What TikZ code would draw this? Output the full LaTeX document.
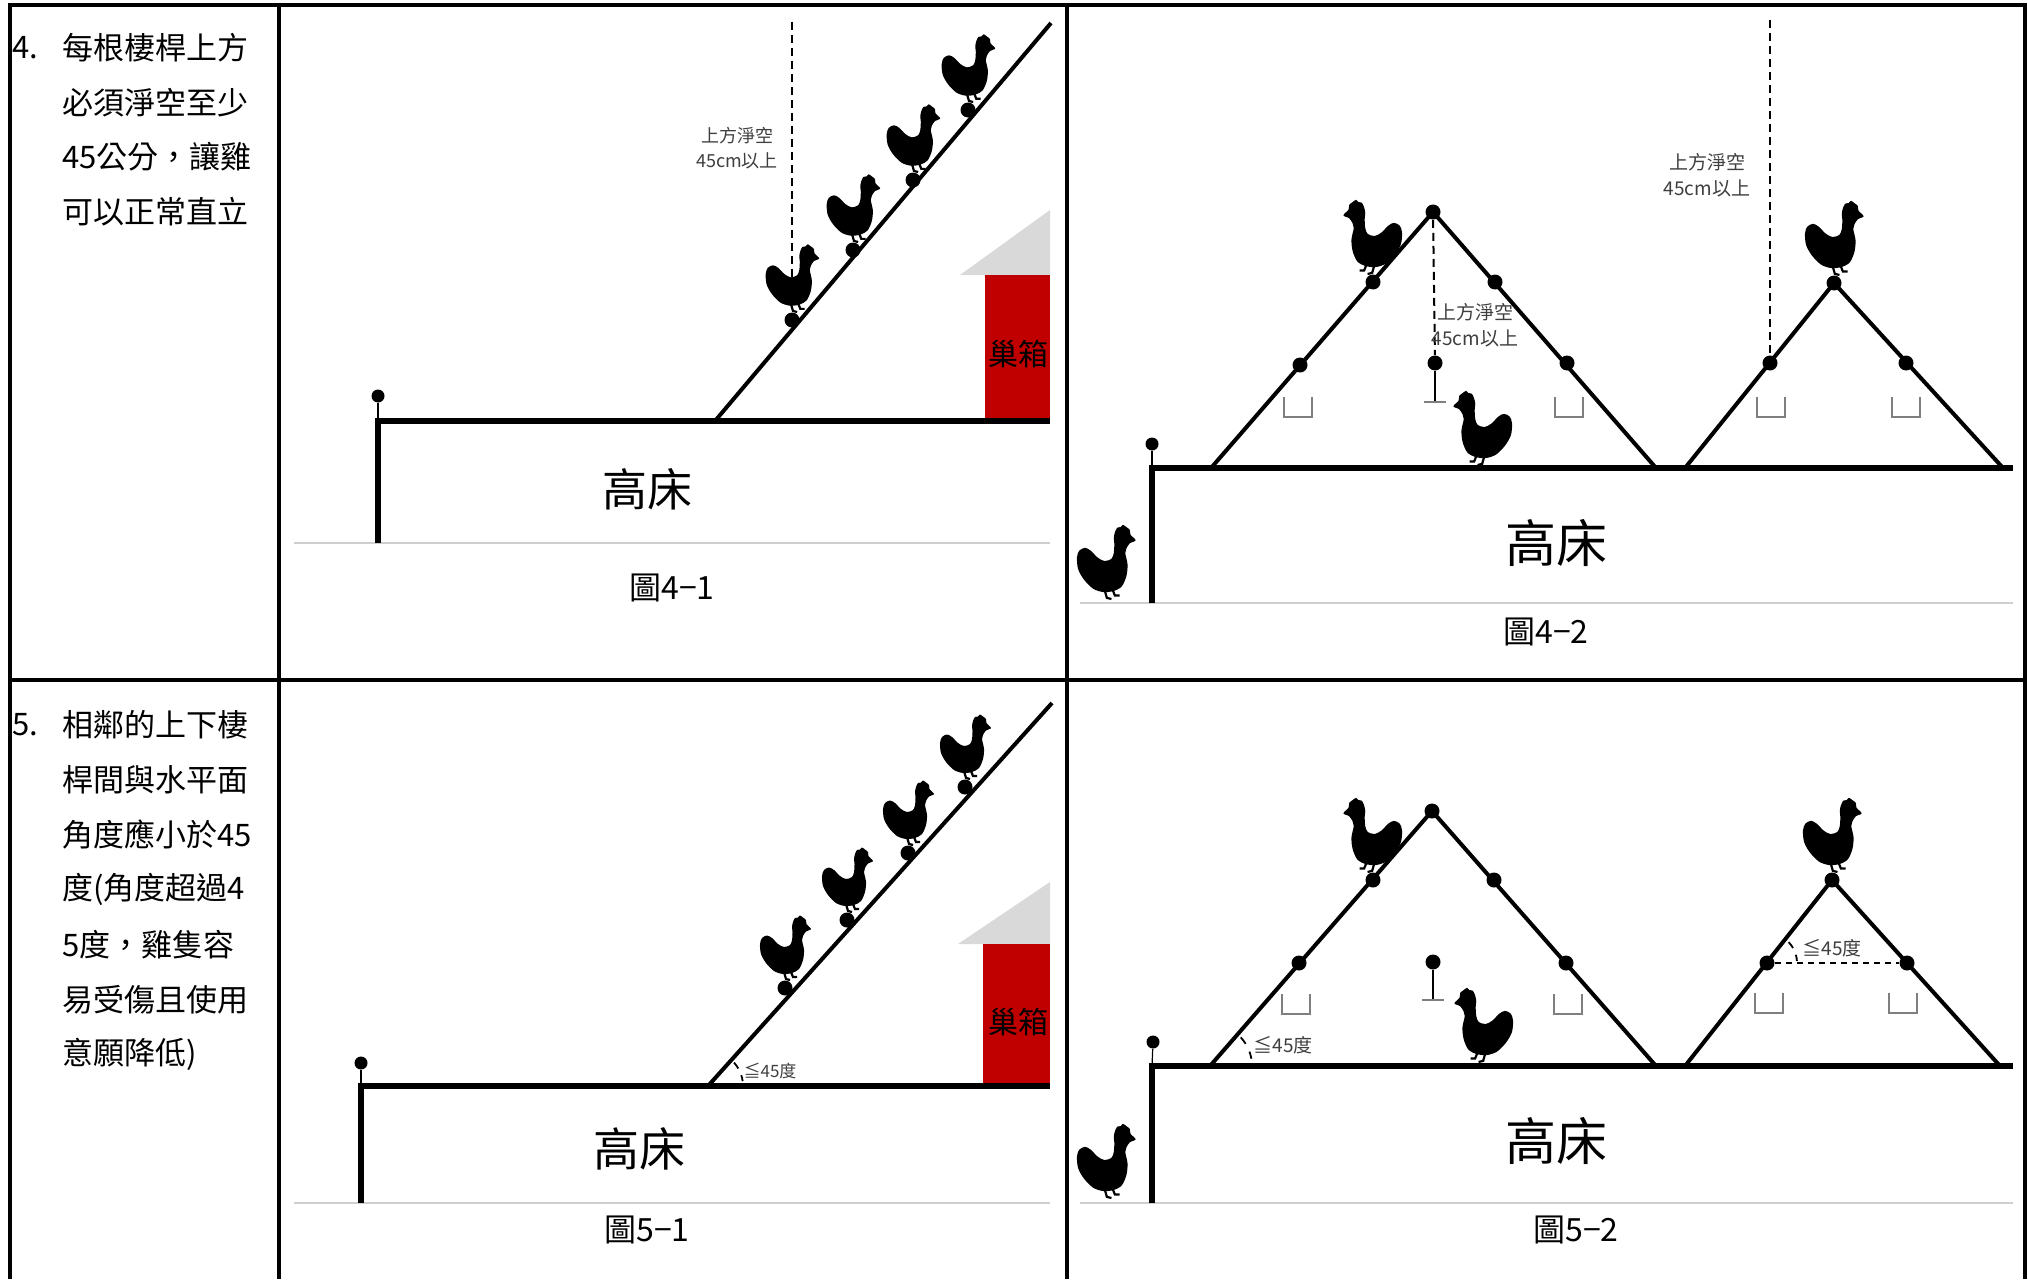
\documentclass[tikz,border=0pt]{standalone}
\usepackage{fontspec}
\setmainfont{Noto Sans CJK TC}
\usetikzlibrary{calc}

\definecolor{nestred}{HTML}{C00000}
\definecolor{roofgray}{HTML}{D9D9D9}
\definecolor{floorgray}{HTML}{CFCFCF}
\definecolor{troughgray}{HTML}{7F7F7F}
\definecolor{notegray}{HTML}{3F3F3F}

\tikzset{
  frame line/.style={line width=2pt},
  bed line/.style={line width=2.6pt, line join=miter},
  perch bar/.style={line width=2pt},
  floor line/.style={line width=1pt, draw=floorgray},
  clearance/.style={line width=1pt, dash pattern=on 4pt off 2.5pt},
  level line/.style={line width=1pt, dash pattern=on 3pt off 2.5pt},
  perch dot/.style={circle, fill=black, inner sep=0pt, minimum size=7.5pt},
  post dot/.style={circle, fill=black, inner sep=0pt, minimum size=6.5pt},
  stem/.style={line width=0.6pt},
  angle tick/.style={line width=0.9pt},
  note/.style={align=center, inner sep=0pt, text=notegray, font=\fontsize{9}{12.5}\selectfont},
  angle note/.style={inner sep=0pt, text=notegray, font=\fontsize{8.5}{10}\selectfont},
  bed name/.style={inner sep=0pt, font=\fontsize{23}{26}\selectfont},
  fig name/.style={inner sep=0pt, font=\fontsize{16}{18}\selectfont},
  nest name/.style={inner sep=0pt, font=\fontsize{15}{18}\selectfont},
  item/.style={anchor=west, inner sep=0pt, font=\fontsize{15.5}{18}\selectfont},
  trough/.pic={\draw[draw=troughgray, line width=0.8pt] (-14,0) -- (-14,20) -- (14,20) -- (14,0);},
  % hen silhouette facing right, origin at the feet
  hen/.pic={
    \fill plot[smooth cycle, tension=0.5] coordinates {
      (-27,-36) (-25,-42) (-20,-44.5) (-15,-42) (-9,-36) (-3,-33) (3,-35)
      (5,-40) (5.5,-48) (5,-53) (6,-58) (8,-62) (11,-62.5) (13,-64.5)
      (16,-62.5) (19,-60) (19.5,-56) (24,-51) (19,-48.5) (16,-44) (15,-40)
      (17,-30) (16,-20) (12,-11) (5,-7) (-4,-6) (-13,-9) (-21,-17) (-26,-26)};
    \draw[line width=1.1pt] (-3,-8) -- (-1,-1) -- (3,0) (4,-8) -- (6,-3) -- (10,-3);
  },
}

\begin{document}
\begin{tikzpicture}[x=0.5pt,y=-0.5pt]
\useasboundingbox[fill=white] (0,0) rectangle (2028,1279);

% table frame
\draw[frame line] (10,1279) -- (10,5) -- (2025,5) -- (2025,1279);
\draw[frame line] (279,5) -- (279,1279);
\draw[frame line] (1067,5) -- (1067,1279);
\draw[frame line] (10,680) -- (2025,680);

% item texts
\node[item] (n4) at (12,48) {4.};
\node[item] (r4a) at (62,48) {每根棲桿上方};
\node[item] (r4b) at (62,102.5) {必須淨空至少};
\node[item] (r4c) at (62,157) {45公分，讓雞};
\node[item] (r4d) at (62,211.5) {可以正常直立};

\node[item] (n5) at (12,724.5) {5.};
\node[item] (r5a) at (62,724.5) {相鄰的上下棲};
\node[item] (r5b) at (62,779.5) {桿間與水平面};
\node[item] (r5c) at (62,834.5) {角度應小於45};
\node[item] (r5d) at (62,889.5) {度(角度超過4};
\node[item] (r5e) at (62,944.5) {5度，雞隻容};
\node[item] (r5f) at (62,999.5) {易受傷且使用};
\node[item] (r5g) at (62,1054.5) {意願降低)};

% ---------- figure 4-1 : single slope ----------
\coordinate (g41a) at (294,543); \coordinate (g41b) at (1050,543);
\draw[floor line] (g41a) -- (g41b);
\fill[roofgray] (960,275) -- (1050,275) -- (1050,210) -- cycle;
\fill[nestred] (985,275) rectangle (1050,421);
\node[nest name] (nest41) at (1018,354) {巢箱};
\coordinate (b41foot) at (378,543); \coordinate (b41top) at (378,421); \coordinate (b41end) at (1050,421);
\draw[bed line] (b41foot) -- (b41top) -- (b41end);
\node[post dot] (p41) at (378,396) {};
\draw[stem] (p41) -- (b41top);
\coordinate (s41a) at (715,421); \coordinate (s41b) at (1051,23);
\draw[perch bar] (s41a) -- (s41b);
\coordinate (c41top) at (792,22); \coordinate (c41end) at (792,285);
\draw[clearance] (c41top) -- (c41end);
\node[note] (l41) at (737,148) {上方淨空\\45cm以上};
\node[perch dot] (d41a) at (792,320) {};
\node[perch dot] (d41b) at (853,250) {};
\node[perch dot] (d41c) at (913,180) {};
\node[perch dot] (d41d) at (968,110) {};
\pic[scale=1.05] at (794,312) {hen};
\pic[scale=1.05] at (855,242) {hen};
\pic[scale=1.05] at (915,172) {hen};
\pic[scale=1.05] at (970,102) {hen};
\node[bed name, font=\fontsize{22.5}{26}\selectfont] (t41) at (647,489) {高床};
\node[fig name] (f41) at (672,588) {圖4−1};

% ---------- figure 4-2 : A-frame ----------
\coordinate (g42a) at (1080,603); \coordinate (g42b) at (2013,603);
\draw[floor line] (g42a) -- (g42b);
\coordinate (b42foot) at (1152,603); \coordinate (b42top) at (1152,468); \coordinate (b42end) at (2013,468);
\draw[bed line] (b42foot) -- (b42top) -- (b42end);
\node[post dot] (p42) at (1152,444) {};
\draw[stem] (p42) -- (b42top);
\coordinate (L42) at (1211,468); \coordinate (R42) at (1656,468);
\coordinate (l42) at (1685,468); \coordinate (r42) at (2003,468);
\node[perch dot] (A42) at (1433,212) {};
\node[perch dot] (a42) at (1834,283) {};
\draw[perch bar] (L42) -- (A42.center) -- (R42);
\draw[perch bar] (l42) -- (a42.center) -- (r42);
\node[perch dot] (A42lu) at (1373,282) {};
\node[perch dot] (A42ll) at (1300,365) {};
\node[perch dot] (A42ru) at (1495,282) {};
\node[perch dot] (A42rl) at (1567,363) {};
\node[perch dot] (a42l) at (1770,363) {};
\node[perch dot] (a42r) at (1906,363) {};
\node[perch dot] (h42) at (1435,363) {};
\coordinate (h42b) at (1435,402);
\draw[stem, line width=1pt] (h42) -- (h42b);
\draw[draw=troughgray, line width=0.8pt] ($(h42b)+(-11,0)$) -- ($(h42b)+(11,0)$);
\draw[clearance] (A42) -- (h42);
\coordinate (c42top) at (1770,20);
\draw[clearance] (c42top) -- (a42l);
\node[note, font=\fontsize{9.5}{13}\selectfont] (l42in) at (1475,325) {上方淨空\\45cm以上};
\node[note, font=\fontsize{9.5}{13}\selectfont] (l42out) at (1707,175) {上方淨空\\45cm以上};
\pic at (1298,397) {trough};
\pic at (1569,397) {trough};
\pic at (1771,397) {trough};
\pic at (1906,397) {trough};
\pic[xscale=-1.15, yscale=1.15] at (1371,274) {hen};
\pic[xscale=-1.15, yscale=1.15] at (1481,465) {hen};
\pic[scale=1.15] at (1836,275) {hen};
\pic[scale=1.15] at (1108,599) {hen};
\node[bed name, font=\fontsize{25.5}{28}\selectfont] (t42) at (1556,543) {高床};
\node[fig name] (f42) at (1546,632) {圖4−2};

% ---------- figure 5-1 : single slope with angle ----------
\coordinate (g51a) at (294,1203); \coordinate (g51b) at (1050,1203);
\draw[floor line] (g51a) -- (g51b);
\fill[roofgray] (958,944) -- (1050,944) -- (1050,882) -- cycle;
\fill[nestred] (983,944) rectangle (1050,1086);
\node[nest name] (nest51) at (1018,1022) {巢箱};
\coordinate (b51foot) at (361,1203); \coordinate (b51top) at (361,1086); \coordinate (b51end) at (1050,1086);
\draw[bed line] (b51foot) -- (b51top) -- (b51end);
\node[post dot] (p51) at (361,1063) {};
\draw[stem] (p51) -- (b51top);
\coordinate (s51a) at (708,1086); \coordinate (s51b) at (1052,703);
\draw[perch bar] (s51a) -- (s51b);
\draw[angle tick] ($(s51a)+(-8:35)$) arc[start angle=-8, end angle=-18, radius=35];
\draw[angle tick] ($(s51a)+(-30:35)$) arc[start angle=-30, end angle=-42, radius=35];
\node[angle note] (ang51) at (770,1071) {≦45度};
\node[perch dot] (d51a) at (785,988) {};
\node[perch dot] (d51b) at (847,920) {};
\node[perch dot] (d51c) at (908,853) {};
\node[perch dot] (d51d) at (965,787) {};
\pic at (787,980) {hen};
\pic at (849,912) {hen};
\pic at (910,845) {hen};
\pic at (967,779) {hen};
\node[bed name] (t51) at (639,1149) {高床};
\node[fig name] (f51) at (647,1230) {圖5−1};

% ---------- figure 5-2 : A-frame with angles ----------
\coordinate (g52a) at (1080,1203); \coordinate (g52b) at (2013,1203);
\draw[floor line] (g52a) -- (g52b);
\coordinate (b52foot) at (1152,1203); \coordinate (b52top) at (1152,1066); \coordinate (b52end) at (2013,1066);
\draw[bed line] (b52foot) -- (b52top) -- (b52end);
\node[post dot] (p52) at (1153,1042) {};
\draw[stem] (p52) -- (b52top);
\coordinate (L52) at (1210,1066); \coordinate (R52) at (1656,1066);
\coordinate (l52) at (1685,1066); \coordinate (r52) at (2000,1066);
\node[perch dot] (A52) at (1432,811) {};
\node[perch dot] (a52) at (1832,880) {};
\draw[perch bar] (L52) -- (A52.center) -- (R52);
\draw[perch bar] (l52) -- (a52.center) -- (r52);
\node[perch dot] (A52lu) at (1373,880) {};
\node[perch dot] (A52ll) at (1299,963) {};
\node[perch dot] (A52ru) at (1494,880) {};
\node[perch dot] (A52rl) at (1566,963) {};
\node[perch dot] (a52l) at (1767,963) {};
\node[perch dot] (a52r) at (1907,963) {};
\draw[level line] (a52l) -- (a52r);
\node[perch dot] (h52) at (1433,962) {};
\coordinate (h52b) at (1433,1000);
\draw[stem, line width=1pt] (h52) -- (h52b);
\draw[draw=troughgray, line width=0.8pt] ($(h52b)+(-11,0)$) -- ($(h52b)+(11,0)$);
\draw[angle tick] ($(L52)+(-10:42)$) arc[start angle=-10, end angle=-20, radius=42];
\draw[angle tick] ($(L52)+(-32:42)$) arc[start angle=-32, end angle=-43, radius=42];
\node[angle note, font=\fontsize{9.5}{11}\selectfont] (ang52a) at (1283,1045) {≦45度};
\draw[angle tick] ($(a52l)+(-4:30)$) arc[start angle=-4, end angle=-16, radius=30];
\draw[angle tick] ($(a52l)+(-30:30)$) arc[start angle=-30, end angle=-44, radius=30];
\node[angle note, font=\fontsize{9.5}{11}\selectfont] (ang52b) at (1832,948) {≦45度};
\pic at (1296,994) {trough};
\pic at (1568,994) {trough};
\pic at (1769,993) {trough};
\pic at (1903,993) {trough};
\pic[xscale=-1.15, yscale=1.15] at (1371,872) {hen};
\pic[xscale=-1.15, yscale=1.15] at (1482,1062) {hen};
\pic[scale=1.15] at (1834,872) {hen};
\pic[scale=1.15] at (1108,1198) {hen};
\node[bed name, font=\fontsize{25.5}{28}\selectfont] (t52) at (1556,1141) {高床};
\node[fig name] (f52) at (1576,1230) {圖5−2};
\end{tikzpicture}
\end{document}
